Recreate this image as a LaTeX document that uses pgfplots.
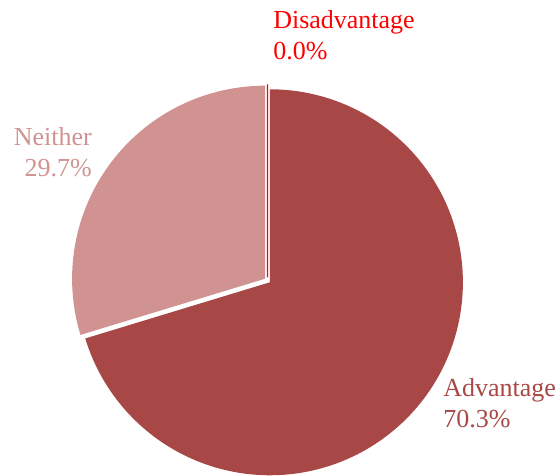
\documentclass[border=0pt]{standalone}
\usepackage{pgfplots}
\usepackage{pgfplotstable}
\pgfplotsset{compat=1.18}
\usepackage{fontspec}
\setmainfont{Liberation Serif}
\definecolor{adv}{HTML}{A84846}
\definecolor{nei}{HTML}{D09391}
\definecolor{dis}{HTML}{FF0000}

\pgfplotstableread{
label value
Advantage 70.3
Neither 29.7
Disadvantage 0.0
}\piedata

\pgfplotstablegetelem{0}{value}\of\piedata \let\vA\pgfplotsretval
\pgfplotstablegetelem{1}{value}\of\piedata \let\vN\pgfplotsretval
\pgfplotstablegetelem{2}{value}\of\piedata \let\vD\pgfplotsretval

% geometry (pixel units, y downward negative)
\def\CX{267.5}
\def\CY{-280.5}
\def\R{193}
\def\D{3}
\pgfmathsetmacro{\tot}{\vA+\vN+\vD}
\pgfmathsetmacro{\aS}{90}
\pgfmathsetmacro{\aE}{90-\vA/\tot*360}
\pgfmathsetmacro{\nS}{\aE}
\pgfmathsetmacro{\nE}{\nS-\vN/\tot*360}
\pgfmathsetmacro{\dS}{\nE}
\pgfmathsetmacro{\dE}{\dS-\vD/\tot*360}

% sector: #1 style, #2 start angle, #3 end angle
\newcommand{\sector}[3]{%
  \pgfmathsetmacro{\midang}{(#2+#3)/2}%
  \pgfmathsetmacro{\ox}{\CX+\D*cos(\midang)}%
  \pgfmathsetmacro{\oy}{\CY+\D*sin(\midang)}%
  \edef\temp{\noexpand\addplot[#1, samples at={-1,0,1,...,200,201}, variable=\noexpand\t]
    ({\ox+(or(\noexpand\t<0,\noexpand\t>200)?0:\R)*cos(#2+(#3-#2)*\noexpand\t/200)},
     {\oy+(or(\noexpand\t<0,\noexpand\t>200)?0:\R)*sin(#2+(#3-#2)*\noexpand\t/200)});}%
  \temp
}

\begin{document}
\begin{tikzpicture}
\begin{axis}[
  scale only axis, width=420pt, height=354.75pt,
  xmin=0, xmax=560, ymin=-473, ymax=0,
  hide axis, clip=false,
]
\path (axis cs:0,0) -- (axis cs:560,-473);
\sector{fill=adv, draw=none}{\aS}{\aE}
\sector{fill=nei, draw=none}{\nS}{\nE}
\sector{draw=dis, line width=0.8pt}{\dS}{\dE}

\begin{scope}[every node/.style={inner sep=0pt, font=\fontsize{19.5}{23}\selectfont}]
\node[anchor=base west, text=dis] at (axis cs:273,-29) {Disadvantage};
\node[anchor=base west, text=dis] at (axis cs:273,-60) {0.0\%};
\node[anchor=base east, text=nei] at (axis cs:92,-146) {Neither};
\node[anchor=base east, text=nei] at (axis cs:92,-177) {29.7\%};
\node[anchor=base west, text=adv] at (axis cs:443,-397) {Advantage};
\node[anchor=base west, text=adv] at (axis cs:443,-428) {70.3\%};
\end{scope}
\end{axis}
\end{tikzpicture}
\end{document}
